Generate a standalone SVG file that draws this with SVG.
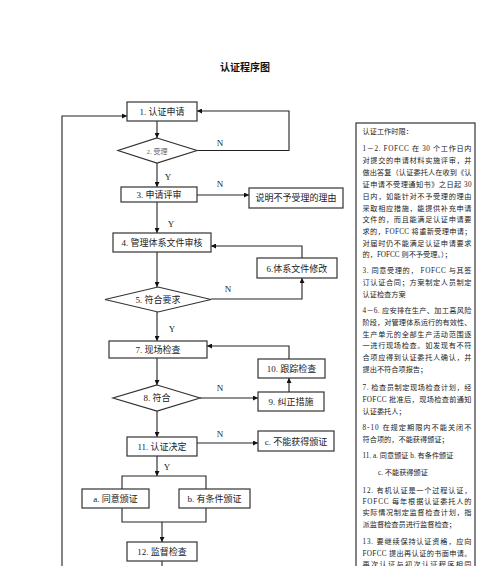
<svg xmlns="http://www.w3.org/2000/svg" width="500" height="566" viewBox="0 0 500 566">
<defs>
<marker id="ah" viewBox="0 0 10 10" refX="10" refY="5" markerWidth="5" markerHeight="5" orient="auto" markerUnits="userSpaceOnUse">
<path d="M0,0 L10,5 L0,10 z" fill="#111"/>
</marker>
<style>
.box{fill:#fff;stroke:#333;stroke-width:1.2}
.t{font-family:"Liberation Serif","Noto Sans CJK SC",serif;font-size:9px;fill:#222;text-anchor:middle}
.lbl{font-family:"Liberation Serif","Noto Sans CJK SC",serif;font-size:9px;fill:#222;text-anchor:middle}
.ln{fill:none;stroke:#222;stroke-width:1.1}
.note{font-family:"Liberation Serif","Noto Sans CJK SC",serif;font-size:7.2px;fill:#222}
.title{font-family:"Liberation Sans","Noto Sans CJK SC",sans-serif;font-size:10px;font-weight:bold;fill:#111;text-anchor:middle}
</style>
</defs>
<rect width="500" height="566" fill="#fff"/>
<text class="title" x="245" y="71">认证程序图</text>

<g id="connectors">
<path class="ln" d="M157,121 V138" marker-end="url(#ah)"/>
<path class="ln" d="M197,150.5 H289 V111 H197" marker-end="url(#ah)"/>
<path class="ln" d="M157,163 V187" marker-end="url(#ah)"/>
<path class="ln" d="M197,195 H249" marker-end="url(#ah)"/>
<path class="ln" d="M157,202 V233" marker-end="url(#ah)"/>
<path class="ln" d="M302,258 V246 H211" marker-end="url(#ah)"/>
<path class="ln" d="M211,299 H302 V278" marker-end="url(#ah)"/>
<path class="ln" d="M157,252 V287" marker-end="url(#ah)"/>
<path class="ln" d="M157,312 V341" marker-end="url(#ah)"/>
<path class="ln" d="M289,359 V346 H207" marker-end="url(#ah)"/>
<path class="ln" d="M157,358 V385" marker-end="url(#ah)"/>
<path class="ln" d="M200,398 H258" marker-end="url(#ah)"/>
<path class="ln" d="M289,392 V378" marker-end="url(#ah)"/>
<path class="ln" d="M157,411 V437" marker-end="url(#ah)"/>
<path class="ln" d="M197,443 H258" marker-end="url(#ah)"/>
<path class="ln" d="M157,456 V476" marker-end="url(#ah)"/>
<path class="ln" d="M122,489 V476 H206 V489"/>
<path class="ln" d="M122,508 V522 H206 V508"/>
<path class="ln" d="M162,522 V542" marker-end="url(#ah)"/>
<path class="ln" d="M162,561 V570"/>
<path class="ln" d="M62,570 V116 H127" marker-end="url(#ah)"/>
<text class="lbl" x="220" y="146">N</text>
<text class="lbl" x="168" y="180">Y</text>
<text class="lbl" x="220" y="187">N</text>
<text class="lbl" x="171" y="227">Y</text>
<text class="lbl" x="228" y="292">N</text>
<text class="lbl" x="172" y="332">Y</text>
<text class="lbl" x="220" y="391">N</text>
<text class="lbl" x="220" y="437">N</text>
<text class="lbl" x="167" y="470">Y</text>
</g>

<g id="n1"><rect class="box" x="127" y="102" width="70" height="19"/><text class="t" x="162" y="114.5">1. 认证申请</text></g>
<g id="n2"><polygon class="box" points="157,138 197,150.5 157,163 118,150.5"/><text class="t" x="157" y="153.5" style="font-size:7px;fill:#666">2. 受理</text></g>
<g id="n3"><rect class="box" x="121" y="187" width="76" height="15"/><text class="t" x="159" y="198">3. 申请评审</text></g>
<g id="n3n"><rect class="box" x="249" y="188" width="94" height="20"/><text class="t" x="296" y="201">说明不予受理的理由</text></g>
<g id="n4"><rect class="box" x="113" y="233" width="98" height="19"/><text class="t" x="162" y="246">4. 管理体系文件审核</text></g>
<g id="n6"><rect class="box" x="257" y="258" width="80" height="20"/><text class="t" x="297" y="271.5">6.体系文件修改</text></g>
<g id="n5"><polygon class="box" points="158,287 211,299.5 158,312 105,299.5"/><text class="t" x="158" y="302.5">5. 符合要求</text></g>
<g id="n7"><rect class="box" x="109" y="341" width="98" height="17"/><text class="t" x="158" y="353">7. 现场检查</text></g>
<g id="n10"><rect class="box" x="258" y="359" width="67" height="19"/><text class="t" x="291.5" y="372">10. 跟踪检查</text></g>
<g id="n8"><polygon class="box" points="157,385 200,398 157,411 113,398"/><text class="t" x="157" y="401">8. 符合</text></g>
<g id="n9"><rect class="box" x="258" y="392" width="66" height="19"/><text class="t" x="291" y="405">9. 纠正措施</text></g>
<g id="n11"><rect class="box" x="127" y="437" width="70" height="19"/><text class="t" x="162" y="450">11. 认证决定</text></g>
<g id="nc"><rect class="box" x="258" y="431" width="76" height="20"/><text class="t" x="296" y="444.5">c. 不能获得颁证</text></g>
<g id="na"><rect class="box" x="82" y="489" width="67" height="19"/><text class="t" x="115.5" y="502">a. 同意颁证</text></g>
<g id="nb"><rect class="box" x="179" y="489" width="71" height="19"/><text class="t" x="214.5" y="502">b. 有条件颁证</text></g>
<g id="n12"><rect class="box" x="127" y="542" width="70" height="19"/><text class="t" x="162" y="555">12. 监督检查</text></g>

<g id="notes">
<rect class="box" x="356" y="123" width="119" height="460"/>
<text class="note" x="362.5" y="133.5">认证工作时限：</text>
<text class="note" x="362.5" y="151" textLength="109" lengthAdjust="spacing">1－2. FOFCC 在 30 个工作日内</text>
<text class="note" x="362.5" y="163" textLength="109" lengthAdjust="spacing">对提交的申请材料实施评审，并</text>
<text class="note" x="362.5" y="175" textLength="109" lengthAdjust="spacing">做出答复（认证委托人在收到《认</text>
<text class="note" x="362.5" y="187" textLength="109" lengthAdjust="spacing">证申请不受理通知书》之日起 30</text>
<text class="note" x="362.5" y="199" textLength="109" lengthAdjust="spacing">日内，如能针对不予受理的理由</text>
<text class="note" x="362.5" y="210.5" textLength="109" lengthAdjust="spacing">采取相应措施，能提供补充申请</text>
<text class="note" x="362.5" y="222" textLength="109" lengthAdjust="spacing">文件的，而且能满足认证申请要</text>
<text class="note" x="362.5" y="234" textLength="109" lengthAdjust="spacing">求的，FOFCC 将重新受理申请；</text>
<text class="note" x="362.5" y="245.5" textLength="109" lengthAdjust="spacing">对届时仍不能满足认证申请要求</text>
<text class="note" x="362.5" y="257">的，FOFCC 则不予受理。）；</text>
<text class="note" x="362.5" y="273" textLength="109" lengthAdjust="spacing">3. 同意受理的， FOFCC 与其签</text>
<text class="note" x="362.5" y="285" textLength="109" lengthAdjust="spacing">订认证合同；方案制定人员制定</text>
<text class="note" x="362.5" y="296.5">认证检查方案</text>
<text class="note" x="362.5" y="313" textLength="109" lengthAdjust="spacing">4－6. 应安排在生产、加工高风险</text>
<text class="note" x="362.5" y="325" textLength="109" lengthAdjust="spacing">阶段，对管理体系运行的有效性、</text>
<text class="note" x="362.5" y="336.5" textLength="109" lengthAdjust="spacing">生产单元的全部生产活动范围逐</text>
<text class="note" x="362.5" y="348" textLength="109" lengthAdjust="spacing">一进行现场检查。如发现有不符</text>
<text class="note" x="362.5" y="360" textLength="109" lengthAdjust="spacing">合项应得到认证委托人确认，并</text>
<text class="note" x="362.5" y="371.5">提出不符合项报告；</text>
<text class="note" x="362.5" y="390" textLength="109" lengthAdjust="spacing">7. 检查员制定现场检查计划，经</text>
<text class="note" x="362.5" y="401.5" textLength="109" lengthAdjust="spacing">FOFCC 批准后，现场检查前通知</text>
<text class="note" x="362.5" y="413.5">认证委托人；</text>
<text class="note" x="362.5" y="429.5" textLength="109" lengthAdjust="spacing">8-10 在规定期限内不能关闭不</text>
<text class="note" x="362.5" y="441.5">符合项的，不能获得颁证；</text>
<text class="note" x="362.5" y="458">11. a. 同意颁证 b. 有条件颁证</text>
<text class="note" x="378" y="474.5">c. 不能获得颁证</text>
<text class="note" x="362.5" y="493" textLength="109" lengthAdjust="spacing">12. 有机认证是一个过程认证，</text>
<text class="note" x="362.5" y="504" textLength="109" lengthAdjust="spacing">FOFCC 每年根据认证委托人的</text>
<text class="note" x="362.5" y="515" textLength="109" lengthAdjust="spacing">实际情况制定监督检查计划，指</text>
<text class="note" x="362.5" y="526.5">派监督检查员进行监督检查；</text>
<text class="note" x="362.5" y="544" textLength="109" lengthAdjust="spacing">13. 要继续保持认证资格，应向</text>
<text class="note" x="362.5" y="555.5" textLength="109" lengthAdjust="spacing">FOFCC 提出再认证的书面申请。</text>
<text class="note" x="362.5" y="567" textLength="109" lengthAdjust="spacing">再次认证与初次认证程序相同</text>
</g>
</svg>
